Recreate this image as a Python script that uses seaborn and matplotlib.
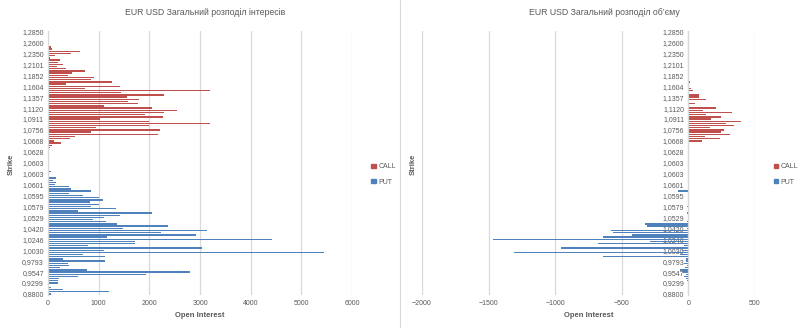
import numpy as np
import pandas as pd
import matplotlib
matplotlib.use("Agg")
import matplotlib.pyplot as plt
from matplotlib.patches import Patch
from matplotlib.lines import Line2D
import seaborn as sns

sns.set_style("white")
plt.rcParams['font.family'] = ['Liberation Sans', 'DejaVu Sans']

# ---------------- data ----------------
strike_labels = ["1,2850", "1,2600", "1,2350", "1,2101", "1,1852", "1,1604", "1,1357",
                 "1,1120", "1,0911", "1,0756", "1,0668", "1,0628", "1,0603", "1,0603",
                 "1,0601", "1,0595", "1,0579", "1,0529", "1,0420", "1,0246", "1,0030",
                 "0,9793", "0,9547", "0,9299", "0,8800"]
rows_per_label = 5
n_rows = 121

# CALL rows 0..60 (top), PUT rows 61..120 (bottom)
call_oi = [5, 15, 20, 25, 15, 0, 10, 60, 80, 630, 450, 135, 45, 240, 200, 300, 180,
           350, 740, 470, 400, 900, 845, 1270, 360, 1420, 730, 3200, 1450, 2290, 1565,
           1790, 1570, 1770, 1100, 2045, 2550, 2290, 1920, 2270, 1025, 1995, 3190, 1995,
           940, 2220, 850, 2180, 540, 440, 120, 250, 80, 40, 20, 15, 10, 15, 10, 15, 10]
put_oi = [5, 0, 5, 60, 0, 25, 160, 90, 160, 140, 410, 460, 850, 420, 690, 1000, 1090,
          820, 1000, 840, 1350, 590, 2050, 1425, 1100, 890, 1150, 1360, 2360, 1480,
          3130, 2240, 2930, 1170, 4420, 1720, 1710, 785, 3030, 1115, 5450, 690, 1130,
          300, 1120, 400, 415, 245, 770, 2810, 1940, 600, 225, 190, 190, 15, 60, 290,
          1195, 65]
call_vol = [0, 0, 0, 0, 0, 0, 0, 0, 0, 0, 0, 0, 0, 0, 0, 0, 0, 0, 0, 0, 0, 0, 0, 13,
            0, 0, 20, 33, 0, 78, 83, 134, 0, 48, 8, 210, 108, 325, 134, 247, 172, 396,
            280, 343, 159, 268, 242, 310, 126, 235, 101, 0, 0, 0, 0, 0, 0, 0, 0, 0, 0]
put_vol = [0, 0, 0, 0, 0, 0, 0, 0, 0, 0, 0, 0, -80, 0, 0, 0, 0, 0, 0, -10, 0, 0, -10,
           0, 0, 0, -10, -324, -312, -10, -583, -563, -420, -638, -1467, -291, -676,
           -35, -957, -48, -1312, -60, -638, -15, -20, -30, -10, -25, -60, -40, -20,
           -30, -15, -10, -5, 0, 0, 0, 0, 0]

call_rows = np.arange(0, len(call_oi))
put_rows = np.arange(len(call_oi), len(call_oi) + len(put_oi))

palette = {"CALL": "#C0504D", "PUT": "#4F81BD"}
txt = "#595959"
grid = "#D9D9D9"

fig = plt.figure(figsize=(8.0, 3.28), dpi=100)
ax1 = fig.add_axes([0.06, 0.1006, 0.38, 0.8064])
ax2 = fig.add_axes([0.5275, 0.1006, 0.41625, 0.8064])

series = {
    ax1: [(call_rows, call_oi, "CALL"), (put_rows, put_oi, "PUT")],
    ax2: [(call_rows, call_vol, "CALL"), (put_rows, put_vol, "PUT")],
}

for ax, items in series.items():
    for rows, vals, name in items:
        d = pd.DataFrame({"row": rows, "value": vals})
        sns.barplot(data=d, x="value", y="row", orient="h", native_scale=True,
                    color=palette[name], width=0.62, linewidth=0,
                    errorbar=None, saturation=1, ax=ax)
    ax.set_ylim(n_rows - 0.5, -0.5)
    ax.set_yticks(np.arange(0, n_rows, rows_per_label))
    ax.set_yticklabels(strike_labels)
    ax.tick_params(axis="both", length=0, labelsize=5, colors=txt)
    ax.tick_params(axis="y", pad=3)
    ax.set_ylabel("")
    ax.set_xlabel("Open Interest", fontsize=5.5, fontweight="bold", color=txt, labelpad=4)
    ax.grid(axis="x", color=grid, linewidth=0.9)
    ax.grid(axis="y", visible=False)
    for s in ("top", "right", "bottom"):
        ax.spines[s].set_visible(False)
    ax.spines["left"].set_color(grid)
    ax.spines["left"].set_linewidth(0.9)
    for gl in ax.get_xgridlines():
        gl.set_zorder(0)

ax1.set_xlim(0, 6000)
ax1.set_xticks([0, 1000, 2000, 3000, 4000, 5000, 6000])
ax2.set_xlim(-2000, 500)
ax2.set_xticks([-2000, -1500, -1000, -500, 0, 500])
ax2.spines["left"].set_position(("data", 0))

fig.text(0.256, 0.962, "EUR USD Загальний розподіл інтересів", ha="center", va="center",
         fontsize=6.3, color=txt)
fig.text(0.755, 0.962, "EUR USD Загальний розподіл об’єму", ha="center", va="center",
         fontsize=6.3, color=txt)
fig.text(0.014, 0.5, "Strike", rotation=90, ha="center", va="center", fontsize=5.5,
         fontweight="bold", color=txt)
fig.text(0.517, 0.5, "Strike", rotation=90, ha="center", va="center", fontsize=5.5,
         fontweight="bold", color=txt)

handles = [Patch(color=palette["CALL"]), Patch(color=palette["PUT"])]
for xpos in (0.46, 0.963):
    fig.legend(handles, ["CALL", "PUT"], loc="center left", bbox_to_anchor=(xpos, 0.468),
               frameon=False, fontsize=5, handlelength=0.6, handleheight=0.6,
               handletextpad=0.4, labelspacing=1.2, labelcolor=txt, borderpad=0)

fig.add_artist(Line2D([0.5, 0.5], [0.0, 1.0], color=grid, linewidth=0.8))

fig.savefig("out.png", dpi=100)
